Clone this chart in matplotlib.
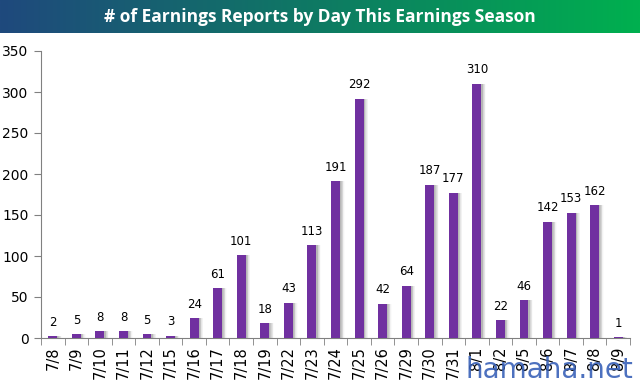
import matplotlib
matplotlib.use("Agg")
import matplotlib.pyplot as plt
import numpy as np
from matplotlib.colors import LinearSegmentedColormap

days = ["7/8", "7/9", "7/10", "7/11", "7/12", "7/15", "7/16", "7/17", "7/18", "7/19",
        "7/22", "7/23", "7/24", "7/25", "7/26", "7/29", "7/30", "7/31", "8/1", "8/2",
        "8/5", "8/6", "8/7", "8/8", "8/9"]
reports = [2, 5, 8, 8, 5, 3, 24, 61, 101, 18, 43, 113, 191, 292, 42, 64, 187, 177,
           310, 22, 46, 142, 153, 162, 1]
yticks = [0, 50, 100, 150, 200, 250, 300, 350]
title = "# of Earnings Reports by Day This Earnings Season"

fig = plt.figure(figsize=(6.4, 3.84), dpi=100)

# header gradient
hax = fig.add_axes([0, 1 - 33 / 384, 1, 33 / 384])
cmap = LinearSegmentedColormap.from_list("hdr", ["#1f497d", "#0e7a63", "#00b04f"])
hax.imshow(np.linspace(0, 1, 256).reshape(1, -1), aspect="auto", cmap=cmap,
           extent=[0, 1, 0, 1])
hax.set_axis_off()
hax.text(0.5, 0.47, title, color="white", fontsize=12.5, fontweight="bold",
         ha="center", va="center", family=["Open Sans", "DejaVu Sans"])

ax = fig.add_axes([41 / 640, 46 / 384, (630 - 41) / 640, (338 - 51) / 384])
x = np.arange(len(days))
w = 0.38
# shadow
for k, a in enumerate(np.linspace(0.22, 0.03, 6)):
    ax.bar(x + 0.05 + k * 0.03, reports, width=w, color="#808080", alpha=a,
           zorder=1, linewidth=0)
ax.bar(x, reports, width=w, color="#7030a0", zorder=3, linewidth=0)
for xi, v in zip(x, reports):
    ax.text(xi, v + 9, str(v), ha="center", va="bottom", fontsize=8.5, color="#000000")

ax.set_xlim(-0.5, len(days) - 0.5)
ax.set_ylim(0, 350)
ax.set_yticks(yticks)
ax.set_yticklabels([str(t) for t in yticks], fontsize=10)
ax.set_xticks(x)
ax.set_xticklabels(days, rotation=90, fontsize=10.5)
ax.set_xticks(np.arange(-0.5, len(days), 1), minor=True)
ax.tick_params(axis="x", which="major", length=0, pad=6)
ax.tick_params(axis="x", which="minor", length=5, color="#808080", direction="out")
ax.tick_params(axis="y", length=5, color="#808080", direction="out", pad=4)
for s in ["top", "right"]:
    ax.spines[s].set_visible(False)
for s in ["left", "bottom"]:
    ax.spines[s].set_color("#808080")

fig.text(0.99, 0.0, "hamaha.net", color="#3a62b8", alpha=0.9, fontsize=20,
         ha="right", va="bottom")

fig.savefig("out.png", dpi=100)
